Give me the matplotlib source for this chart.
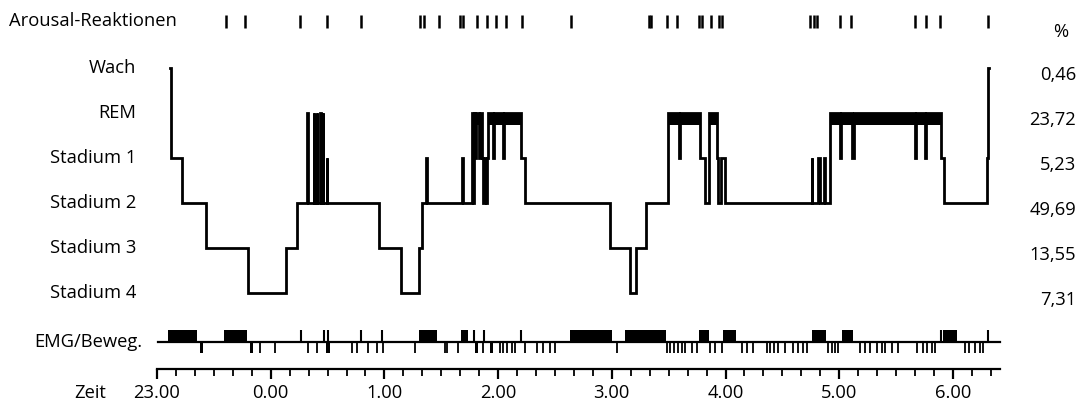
import matplotlib
matplotlib.use("Agg")
import matplotlib.pyplot as plt

plt.rcParams['font.family'] = ['Open Sans', 'DejaVu Sans']

# ---------------- data (time in minutes after 23:00) ----------------
stage_labels = ["Wach", "REM", "Stadium 1", "Stadium 2", "Stadium 3", "Stadium 4"]
stage_codes = ["W", "R", "1", "2", "3", "4"]
stage_percent = ["0,46", "23,72", "5,23", "49,69", "13,55", "7,31"]

hyp_t = [7, 7.5, 13, 26, 48, 68, 74,
         79.2, 79.5, 82.8, 83.1, 84.3, 84.6, 86, 86.3, 87.4, 87.7, 89.5, 89.8,
         117, 129, 138, 140, 142, 142.4, 161, 161.4,
         166, 166.5, 167.5, 168, 168.5, 170, 170.5, 171.5, 172, 173, 173.5, 174, 174.5,
         177.3, 177.7, 182.5, 183, 192.2, 194,
         239, 249.6, 252.8, 258, 269.5, 275.4, 275.9, 286.5, 289.2,
         291.5, 295.4, 296, 297.5, 299.5,
         345.4, 345.8, 348.7, 349.7, 351.9, 352.3,
         355.2, 360.3, 360.8, 366.6, 367.8, 400, 400.5, 405.1, 405.6, 413.7, 415.5,
         438.2, 438.4]
hyp_s = ["W", "1", "2", "3", "4", "3", "2",
         "R", "2", "R", "2", "R", "2", "R", "2", "R", "2", "1", "2",
         "3", "4", "3", "2", "1", "2", "1", "2",
         "R", "2", "R", "1", "R", "1", "R", "1", "2", "1", "2", "1", "R",
         "1", "R", "1", "R", "1", "2",
         "3", "4", "3", "2", "R", "1", "R", "1", "2",
         "R", "1", "2", "1", "2",
         "1", "2", "1", "2", "1", "2",
         "R", "1", "R", "1", "R", "1", "R", "1", "R", "1", "2",
         "1", "W"]
hyp_end = 438.8

arousals = [36.2, 46.4, 75.5, 89.7, 107.7, 138.8, 140.9, 148.8, 159.9, 161.5,
            168.9, 174.1, 178.9, 184.2, 192.6, 218.5, 259.4, 260.7, 269.1, 274.4,
            286.0, 287.6, 292.1, 296.6, 298.2, 344.6, 346.7, 348.3, 360.4, 366.2,
            400.0, 405.8, 413.2, 438.5]

emg_start, emg_end = 0.5, 444.8
emg_up_start = [5.8, 35.4, 138.3, 160.4, 217.9, 247.0, 286.0, 298.7, 345.6, 361.5, 414.8]
emg_up_end = [21.1, 47.5, 147.8, 164.1, 240.1, 268.6, 291.3, 305.5, 352.9, 367.3, 422.2]
emg_up_spikes = [76.0, 88.1, 90.2, 107.7, 118.7, 167.3, 172.6, 192.1, 413.7, 438.5]
emg_down_block_start = [22.7, 49.1, 89.2, 167.8, 175.7]
emg_down_block_end = [24.3, 50.7, 91.3, 169.4, 177.3]
emg_down_ticks = [54.4, 62.3, 79.7, 84.4, 102.9, 105.5, 111.3, 116.1, 119.3, 136.1,
                  152.0, 153.0, 158.8, 172.0, 181.0, 182.6, 184.7, 187.3, 188.9,
                  194.2, 200.5, 203.7, 207.4, 210.0, 242.8, 269.1, 270.7, 272.8,
                  274.9, 277.0, 278.6, 282.3, 285.0, 291.8, 294.5, 298.2, 308.7,
                  311.4, 314.5, 321.9, 323.5, 325.6, 327.7, 331.4, 335.6, 338.2,
                  340.9, 343.0, 354.1, 356.2, 357.8, 359.4, 371.0, 373.6, 376.3,
                  380.0, 382.6, 384.2, 387.9, 391.0, 401.0, 404.2, 406.3, 409.0,
                  410.6, 426.4, 428.5, 431.6, 434.3, 435.9]

time_axis_end = 444.8
hour_positions = [0, 60, 120, 180, 240, 300, 360, 420]
hour_labels = ["23.00", "0.00", "1.00", "2.00", "3.00", "4.00", "5.00", "6.00"]
minor_step = 10

# ---------------- layout ----------------
W, H = 1081, 412
PX = 60 / 113.7          # minutes per pixel
X0 = 157                 # pixel of 23.00
def xm(px):
    return (px - X0) * PX

def yl(py):              # pixel row -> level units
    return (py - 68) / 45.0

fig = plt.figure(figsize=(W / 100, H / 100), dpi=100)
ax = fig.add_axes([0, 0, 1, 1])
ax.set_xlim(xm(0), xm(W))
ax.set_ylim(yl(H), yl(0))
ax.axis("off")

FS = 13.2
level = {c: i for i, c in enumerate(stage_codes)}

# stage labels and percentages
for i, lab in enumerate(stage_labels):
    ax.text(xm(136), i, lab, ha="right", va="center", fontsize=FS)
    ax.text(xm(1076), i + 0.15, stage_percent[i], ha="right", va="center", fontsize=FS)
ax.text(xm(1061), yl(32), "%", ha="center", va="center", fontsize=FS)

# hypnogram
xs = hyp_t + [hyp_end]
ys = [level[s] for s in hyp_s] + [level[hyp_s[-1]]]
ax.step(xs, ys, where="post", color="black", lw=2.0, solid_joinstyle="miter")
for i, s in enumerate(hyp_s):
    if s == "R":
        t0 = hyp_t[i]
        t1 = hyp_t[i + 1] if i + 1 < len(hyp_t) else hyp_end
        if t1 - t0 >= 1.0:
            ax.fill_between([t0, t1], 1, 1.26, color="black", lw=0)

# arousals
ax.text(xm(9), yl(21), "Arousal-Reaktionen", ha="left", va="center", fontsize=FS)
ax.vlines(arousals, yl(15), yl(28), color="black", lw=1.8)

# EMG / movement
yb = yl(342)
ax.text(xm(142), yb, "EMG/Beweg.", ha="right", va="center", fontsize=FS)
ax.plot([emg_start, emg_end], [yb, yb], color="black", lw=1.6)
for s, e in zip(emg_up_start, emg_up_end):
    ax.fill_between([s, e], yl(330), yb, color="black", lw=0)
ax.vlines(emg_up_spikes, yl(330), yb, color="black", lw=1.5)
for s, e in zip(emg_down_block_start, emg_down_block_end):
    ax.fill_between([s, e], yb, yl(353), color="black", lw=0)
ax.vlines(emg_down_ticks, yb, yl(353), color="black", lw=1.3)

# time axis
ya = yl(369)
ax.plot([0, time_axis_end], [ya, ya], color="black", lw=1.6)
minor = list(range(0, int(time_axis_end) + 1, minor_step))
ax.vlines(minor, ya, yl(376), color="black", lw=1.3)
ax.vlines(hour_positions, ya, yl(379), color="black", lw=1.6)
for p, lab in zip(hour_positions, hour_labels):
    ax.text(p, yl(393), lab, ha="center", va="center", fontsize=FS)
ax.text(xm(90), yl(393), "Zeit", ha="center", va="center", fontsize=FS)

fig.savefig("out.png", dpi=100)
